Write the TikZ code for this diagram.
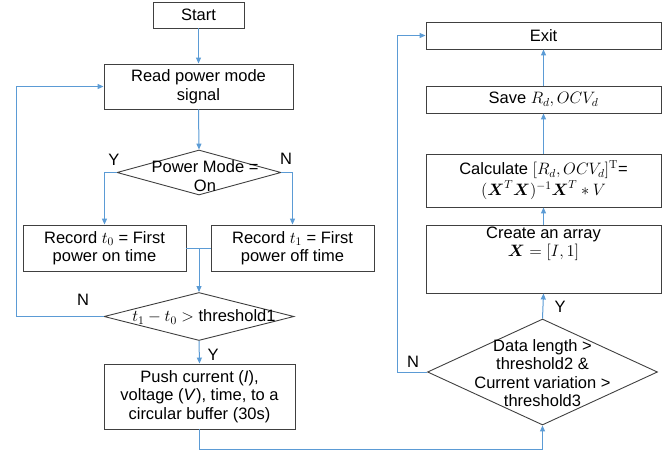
\RequirePackage{fix-cm}
\documentclass[tikz,border=0pt]{standalone}
\usepackage{amsmath,amsbsy}
\usepackage[no-math]{fontspec}
\setmainfont{Liberation Sans}
\usetikzlibrary{arrows.meta,shapes.geometric}
\definecolor{conn}{HTML}{5B9BD5}
\definecolor{bord}{HTML}{404040}
\begin{document}
\begin{tikzpicture}[x=1pt,y=-1pt,
  txt/.style={font=\fontsize{16.5}{18.5}\selectfont, align=center, inner sep=0pt},
  box/.style={draw=bord, line width=0.9pt, txt, minimum width=#1},
  dia/.style={draw=bord, line width=0.9pt, shape=diamond, inner sep=0pt},
  conline/.style={draw=conn, line width=1pt},
  arr/.style={conline, -{Triangle[length=6pt,width=5pt]}},
  lbl/.style={txt}
]
\useasboundingbox (0,0) rectangle (672,453);

% left column
\node[box=91pt, minimum height=26pt] (start) at (198.5,15) {Start};
\node[box=189pt, minimum height=45pt] (read) at (198.5,86.5) {Read power mode\\signal};
\node[dia, minimum width=164pt, minimum height=45pt] (d1) at (199,172.5) {};
\node[txt] (d1t) at (205,176) {Power Mode =\\On};
\node[box=163pt, minimum height=46pt] (rec0) at (104.5,248) {Record $t_0$ = First\\power on time};
\node[box=163pt, minimum height=46pt] (rec1) at (292.5,248) {Record $t_1$ = First\\power off time};
\node[dia, minimum width=190pt, minimum height=48pt] (d2) at (199,316.5) {};
\node[txt] (d2t) at (204,317) {$t_1 - t_0 >$ threshold1};
\node[box=191pt, minimum height=65pt] (push) at (199.5,396.5) {Push current (\textit{I}),\\voltage (\textit{V}), time, to a\\circular buffer (30s)};

% right column
\node[box=235pt, minimum height=27pt] (exit) at (543.5,35.5) {Exit};
\node[box=235pt, minimum height=27pt] (save) at (543.5,99.5) {Save $R_d, OCV_d$};
\node[box=235pt, minimum height=53pt] (calc) at (543.5,180.5) {Calculate $[R_d, OCV_d]^{\mathrm{T}}$=\\[1pt]$(\boldsymbol{X}^T\boldsymbol{X})^{-1}\boldsymbol{X}^T * V$};
\node[box=235pt, minimum height=68pt] (create) at (543.5,259) {};
\node[txt] (createt) at (543.5,244) {Create an array\\$\boldsymbol{X} = [I, 1]$};
\node[dia, minimum width=230pt, minimum height=106pt] (d3) at (542.5,372) {};
\node[txt] (d3t) at (542.5,373) {Data length >\\threshold2 \&\\Current variation >\\threshold3};

% helper coordinates
\coordinate (loopL) at (16,200);
\coordinate (loopR) at (397,200);

% connectors
\draw[arr] (start.south) -- (read.north);
\draw[arr] (read.south) -- (d1.north);
\draw[arr] (d1.west) -| (rec0.north);
\draw[arr] (d1.east) -| (rec1.north);
\draw[conline] (rec0.east) -- (rec1.west);
\draw[arr] (d2.north |- rec0.east) -- (d2.north);
\draw[arr] (d2.west) -- (d2.west -| loopL) |- (read.west);
\draw[arr] (d2.south) -- (push.north);
\draw[arr] (push.south) -- ++(0,20) -| (d3.south);
\draw[arr] (d3.north) -- (create.south);
\draw[arr] (create.north) -- (calc.south);
\draw[arr] (calc.north) -- (save.south);
\draw[arr] (save.north) -- (exit.south);
\draw[arr] (d3.west) -- (d3.west -| loopR) |- (exit.west);

% branch labels
\node[lbl] (y1) at (114,160) {Y};
\node[lbl] (n1) at (286,159) {N};
\node[lbl] (n2) at (83,300) {N};
\node[lbl] (y2) at (213,355) {Y};
\node[lbl] (n3) at (413,362) {N};
\node[lbl] (y3) at (560,307) {Y};
\end{tikzpicture}
\end{document}
